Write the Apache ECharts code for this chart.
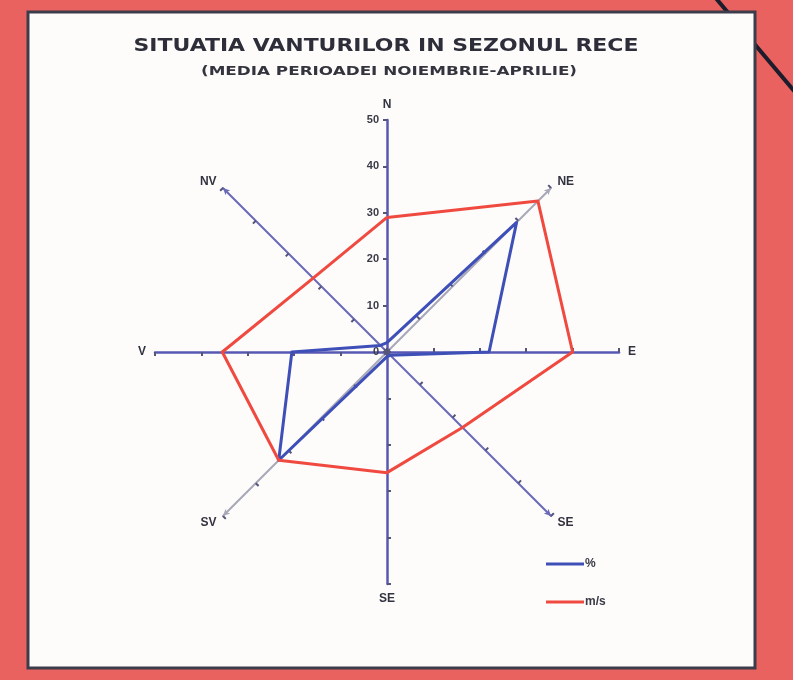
<!DOCTYPE html>
<html>
<head>
<meta charset="utf-8">
<script src="https://cdn.jsdelivr.net/npm/echarts@6/dist/echarts.min.js"></script>
<style>
  html, body { margin: 0; padding: 0; background: #e9625f; }
  #chart { width: 793px; height: 680px; }
</style>
</head>
<body>
<div id="chart"></div>
<script>
  // directions, counterclockwise from north (radar order)
  var directions = ['N', 'NV', 'V', 'SV', 'SE', 'SE', 'E', 'NE']
  var percentValues = [2, 2, 20.5, 33, 1, 1, 22, 39.5]   // %
  var speedValues = [29, 22.5, 35.5, 33, 26, 23, 40, 46]  // m/s
  var axisMax = 50
  var titleText = 'SITUATIA VANTURILOR IN SEZONUL RECE'
  var subtitleText = '(MEDIA PERIOADEI NOIEMBRIE-APRILIE)'

  var axisColors = ['#5858b4', '#6a6ab8', '#5858b4', '#a8a8b8', '#5858b4', '#6a6ab8', '#5858b4', '#a8a8b8']

  var chart = echarts.init(document.getElementById('chart'))

  var indicators = directions.map(function (d, i) {
    var ind = {
      name: d,
      min: 0,
      max: axisMax,
      axisLine: {
        lineStyle: { color: axisColors[i], width: i % 2 === 0 ? 2.5 : 2 }
      }
    }
    if (i === 0) {
      ind.axisLabel = { show: true } // only the north axis carries numbers
    }
    if (i % 2 === 1) {
      ind.axisLine.symbol = ['none', 'arrow']
      ind.axisLine.symbolSize = [5, 7]
    }
    return ind
  })

  chart.setOption({
    backgroundColor: '#e9625f',
    graphic: [
      {
        type: 'line',
        z: -2,
        shape: { x1: 714, y1: -4, x2: 800, y2: 98 },
        style: { stroke: '#1c1c2c', lineWidth: 4 }
      },
      {
        type: 'rect',
        z: -1,
        shape: { x: 28, y: 12, width: 727, height: 656 },
        style: { fill: '#fdfcfb', stroke: '#3c3c4a', lineWidth: 3 }
      },
      {
        type: 'text',
        x: 386,
        y: 46,
        scaleX: 1.22,
        style: {
          text: titleText,
          x: 0,
          y: 0,
          align: 'center',
          verticalAlign: 'middle',
          font: 'bold 18px "DejaVu Sans"',
          fill: '#2e2e3a'
        }
      },
      {
        type: 'text',
        x: 389,
        y: 72,
        scaleX: 1.4,
        style: {
          text: subtitleText,
          x: 0,
          y: 0,
          align: 'center',
          verticalAlign: 'middle',
          font: 'bold 12px "DejaVu Sans"',
          fill: '#34343f'
        }
      }
    ],
    legend: {
      orient: 'vertical',
      left: 541,
      top: 553,
      itemWidth: 38,
      itemHeight: 3,
      itemGap: 26,
      icon: 'rect',
      textStyle: {
        fontFamily: 'Liberation Sans',
        fontSize: 12,
        fontWeight: 'bold',
        color: '#3a3a46',
        padding: [0, 0, 0, -4]
      },
      data: ['%', 'm/s']
    },
    radar: {
      center: [387, 352],
      radius: 232,
      startAngle: 90,
      splitNumber: 5,
      shape: 'polygon',
      nameGap: 9,
      axisName: {
        fontFamily: 'Liberation Sans',
        fontSize: 12,
        fontWeight: 'bold',
        color: '#33333f'
      },
      splitLine: { show: false },
      splitArea: { show: false },
      axisTick: {
        show: true,
        length: 4,
        lineStyle: { color: '#55557a', width: 2 }
      },
      axisLabel: {
        show: false,
        showMinLabel: true,
        fontFamily: 'Liberation Sans',
        fontSize: 11,
        fontWeight: 'bold',
        color: '#3a3a46'
      },
      indicator: indicators
    },
    series: [
      {
        type: 'radar',
        symbol: 'none',
        z: 3,
        data: [
          {
            name: '%',
            value: percentValues,
            itemStyle: { color: '#3f4fb8' },
            lineStyle: { color: '#3f4fb8', width: 3 }
          },
          {
            name: 'm/s',
            value: speedValues,
            itemStyle: { color: '#f04a40' },
            lineStyle: { color: '#f04a40', width: 3 }
          }
        ]
      }
    ]
  })
</script>
</body>
</html>
